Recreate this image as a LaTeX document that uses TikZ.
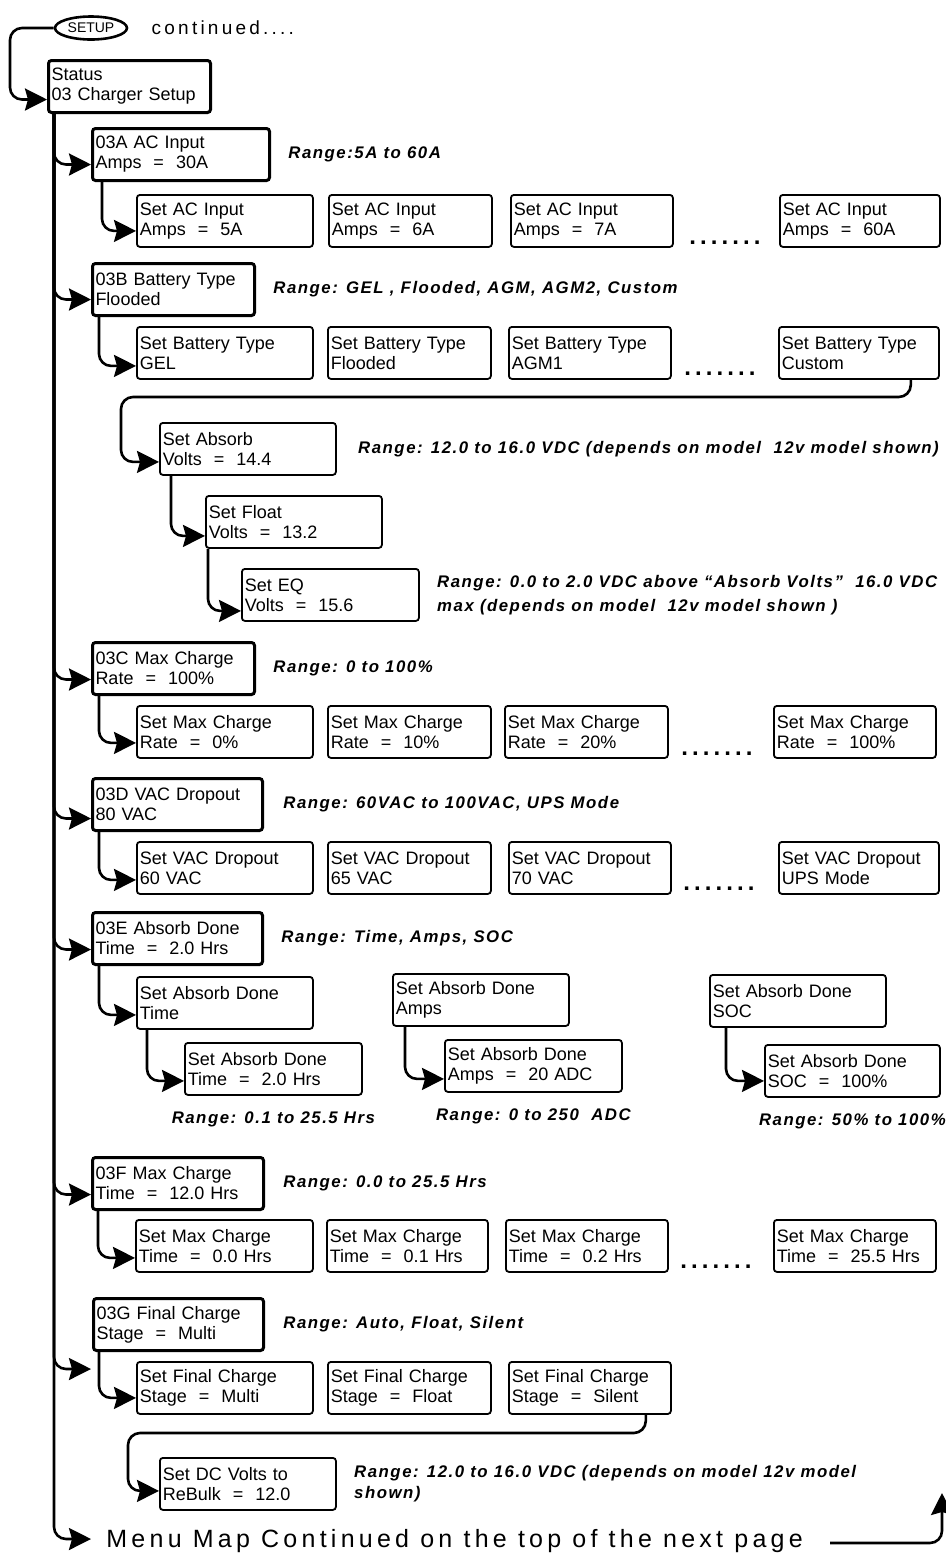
\documentclass[tikz,border=0pt]{standalone}
\usepackage{fontspec}
\setmainfont{Liberation Sans}
\newfontfamily\rangefont[LetterSpace=9]{Liberation Sans}
\newfontfamily\spacedfont[LetterSpace=17]{Liberation Sans}
\usetikzlibrary{positioning,shapes.geometric,arrows.meta}

\tikzset{
  menubox/.style={draw, line width=1.5pt, rounded corners=1.5pt, anchor=north west,
    align=left, text width=#1, inner xsep=1.5pt, inner ysep=0pt, minimum height=26pt,
    font=\fontsize{9}{10}\selectfont},
  setbox/.style={menubox=#1, line width=0.9pt},
  flow/.style={line width=1.3pt, rounded corners=6pt,
    -{Stealth[length=11pt,width=11pt,inset=1.5pt]}},
  rangetxt/.style={inner sep=0pt, align=left,
    font=\rangefont\bfseries\itshape\fontsize{8.4}{12}\selectfont},
  moredots/.style={inner sep=0pt, anchor=base, font=\spacedfont\bfseries\fontsize{12}{12}\selectfont},
}

\begin{document}
\begin{tikzpicture}[x=0.5pt, y=-0.5pt]
\useasboundingbox (0,0) rectangle (946,1560);

% Cabecera
\node[draw, ellipse, line width=1.3pt, minimum width=36pt, minimum height=11.5pt,
  inner sep=0pt, font=\fontsize{7}{7}\selectfont] (setup) at (91,28) {SETUP};
\node[anchor=west, inner sep=0pt, font=\spacedfont\fontsize{9.5}{10}\selectfont,
  right=11.5pt of setup] (cont) {continued....};
\node[menubox=78pt] (status) at (47,59) {Status\\03 Charger Setup};

\coordinate (loopL) at (10,28);
\draw[flow] (setup.west) -- (loopL) |- ([yshift=-6.5pt]status.west);
\coordinate (trunk) at ([xshift=3.5pt]status.south west);

% 03A AC input
\node[menubox=85.5pt] (acin) at (91,127) {03A AC Input\\Amps~~=~~30A};
\node[rangetxt, right=8.5pt of acin] (acrange) {Range:5A to 60A};
\draw[flow] (trunk) |- ([yshift=-5pt]acin.west);
\foreach \x/\w/\name/\val in {136/85/ac1/5A, 328/78.5/ac2/6A, 510/78/ac3/7A, 779/77/ac4/60A} {
  \node[setbox=\w pt] (\name) at (\x,194) {Set AC Input\\Amps~~=~~\val};
}
\node[moredots] (acdots) at (725,244) {.......};
\draw[flow] ([xshift=5.5pt]acin.south west) |- ([yshift=-5pt]ac1.west);

% 03B Battery type
\node[menubox=78pt] (battype) at (91,262) {03B Battery Type\\Flooded};
\node[rangetxt, right=8.5pt of battype] (btrange) {Range: GEL , Flooded, AGM, AGM2, Custom};
\draw[flow] (trunk) |- ([yshift=-5pt]battype.west);
\foreach \x/\w/\name/\val in {136/85/bt1/GEL, 327/78.5/bt2/Flooded, 508/78/bt3/AGM1, 778/77/bt4/Custom} {
  \node[setbox=\w pt] (\name) at (\x,326) {Set Battery Type\\\val};
}
\node[moredots] (btdots) at (720,375) {.......};
\draw[flow] ([xshift=4pt]battype.south west) |- ([yshift=-6.5pt]bt1.west);

% Absorb / Float / EQ
\node[setbox=85pt] (absorb) at (159,422) {Set Absorb\\Volts~~=~~14.4};
\node[rangetxt, right=10.5pt of absorb] (abrange) {Range: 12.0 to 16.0 VDC (depends on model~~12v model shown)};
\coordinate (btturn) at (121,397);
\draw[flow] ([xshift=-14.5pt]bt4.south east) |- (btturn) |- ([yshift=-6.5pt]absorb.west);

\node[setbox=85pt] (float) at (205,495) {Set Float\\Volts~~=~~13.2};
\draw[flow] ([xshift=6pt]absorb.south west) |- ([yshift=-7pt]float.west);

\node[setbox=85.5pt] (eq) at (241,568) {Set EQ\\Volts~~=~~15.6};
\node[rangetxt, right=8.5pt of eq] (eqrange) {Range: 0.0 to 2.0 VDC above “Absorb Volts”~~16.0 VDC\\max (depends on model~~12v model shown )};
\draw[flow] ([xshift=1.5pt]float.south west) |- ([yshift=-8pt]eq.west);

% 03C Max charge rate
\node[menubox=78pt] (maxrate) at (91,641) {03C Max Charge\\Rate~~=~~100\%};
\node[rangetxt, right=8.5pt of maxrate] (mrrange) {Range: 0 to 100\%};
\draw[flow] (trunk) |- ([yshift=-5.5pt]maxrate.west);
\foreach \x/\w/\name/\val in {136/85/mr1/0\%, 327/78.5/mr2/10\%, 504/78.5/mr3/20\%, 773/78/mr4/100\%} {
  \node[setbox=\w pt] (\name) at (\x,705) {Set Max Charge\\Rate~~=~~\val};
}
\node[moredots] (mrdots) at (717,755) {.......};
\draw[flow] ([xshift=4pt]maxrate.south west) |- ([yshift=-5.5pt]mr1.west);

% 03D VAC dropout
\node[menubox=82pt] (vacdrop) at (91,777) {03D VAC Dropout\\80 VAC};
\node[rangetxt, right=9.5pt of vacdrop] (vdrange) {Range: 60VAC to 100VAC, UPS Mode};
\draw[flow] (trunk) |- ([yshift=-7pt]vacdrop.west);
\foreach \x/\w/\name/\val in {136/85/vd1/60 VAC, 327/78.5/vd2/65 VAC, 508/78/vd3/70 VAC, 778/77/vd4/UPS Mode} {
  \node[setbox=\w pt] (\name) at (\x,841) {Set VAC Dropout\\\val};
}
\node[moredots] (vddots) at (719,890) {.......};
\draw[flow] ([xshift=4pt]vacdrop.south west) |- ([yshift=-6pt]vd1.west);

% 03E Absorb done
\node[menubox=82pt] (absdone) at (91,911) {03E Absorb Done\\Time~~=~~2.0 Hrs};
\node[rangetxt, right=8.5pt of absdone] (adrange) {Range: Time, Amps, SOC};
\draw[flow] (trunk) |- ([yshift=-5.5pt]absdone.west);

\node[setbox=85pt] (adT1) at (136,976) {Set Absorb Done\\Time};
\node[setbox=85.5pt] (adT2) at (184,1042) {Set Absorb Done\\Time~~=~~2.0 Hrs};
\node[setbox=85pt] (adA1) at (392,973) {Set Absorb Done\\Amps};
\node[setbox=85.5pt] (adA2) at (444,1039) {Set Absorb Done\\Amps~~=~~20 ADC};
\node[setbox=85pt] (adS1) at (709,974) {Set Absorb Done\\SOC};
\node[setbox=84.5pt] (adS2) at (764,1044) {Set Absorb Done\\SOC~~=~~100\%};
\draw[flow] ([xshift=4pt]absdone.south west) |- ([yshift=-6pt]adT1.west);
\draw[flow] ([xshift=5.5pt]adT1.south west) |- ([yshift=-6pt]adT2.west);
\draw[flow] ([xshift=6.5pt]adA1.south west) |- ([yshift=-6.5pt]adA2.west);
\draw[flow] ([xshift=8.5pt]adS1.south west) |- ([yshift=-5pt]adS2.west);
\node[rangetxt, below=8pt of adT2] (adTrange) {Range: 0.1 to 25.5 Hrs};
\node[rangetxt, below=8pt of adA2] (adArange) {Range: 0 to 250~~ADC};
\node[rangetxt, below=8pt of adS2] (adSrange) {Range: 50\% to 100\%};

% 03F Max charge time
\node[menubox=82.5pt] (maxtime) at (91,1156) {03F Max Charge\\Time~~=~~12.0 Hrs};
\node[rangetxt, right=9pt of maxtime] (mtrange) {Range: 0.0 to 25.5 Hrs};
\draw[flow] (trunk) |- ([yshift=-5.5pt]maxtime.west);
\foreach \x/\w/\name/\val in {135/85.5/mt1/0.0 Hrs, 326/77.5/mt2/0.1 Hrs, 505/78/mt3/0.2 Hrs, 773/78/mt4/25.5 Hrs} {
  \node[setbox=\w pt] (\name) at (\x,1219) {Set Max Charge\\Time~~=~~\val};
}
\node[moredots] (mtdots) at (716,1268) {.......};
\draw[flow] ([xshift=3.5pt]maxtime.south west) |- ([yshift=-6pt]mt1.west);

% 03G Final charge stage
\node[menubox=82pt] (finstage) at (92,1297) {03G Final Charge\\Stage~~=~~Multi};
\node[rangetxt, right=9pt of finstage] (fsrange) {Range: Auto, Float, Silent};
\coordinate (gnext) at (91,1369);
\draw[flow] (trunk) |- (gnext);
\foreach \x/\w/\name/\val in {136/85/fs1/Multi, 327/78.5/fs2/Float, 508/78/fs3/Silent} {
  \node[setbox=\w pt] (\name) at (\x,1361) {Set Final Charge\\Stage~~=~~\val};
}
\draw[flow] ([xshift=3.5pt]finstage.south west) |- ([yshift=-5pt]fs1.west);

\node[setbox=85pt] (rebulk) at (159,1457) {Set DC Volts to\\ReBulk~~=~~12.0};
\node[rangetxt, right=8.5pt of rebulk] (rbrange) {Range: 12.0 to 16.0 VDC (depends on model 12v model\\[-1.5pt]shown)};
\coordinate (fsturn) at (128,1433);
\draw[flow] ([xshift=-13pt]fs3.south east) |- (fsturn) |- ([yshift=-3.5pt]rebulk.west);

% Pie
\node[anchor=base west, inner sep=0pt, font=\spacedfont\fontsize{12.5}{13}\selectfont]
  (menu) at (106,1547) {Menu Map Continued on the top of the next page};
\draw[flow] (trunk) |- ([xshift=-7.5pt,yshift=4pt]menu.base west);
\coordinate (pgstart) at (830,1543);
\coordinate (pgtip) at (942,1493);
\draw[flow] (pgstart) -| (pgtip);
\end{tikzpicture}
\end{document}
